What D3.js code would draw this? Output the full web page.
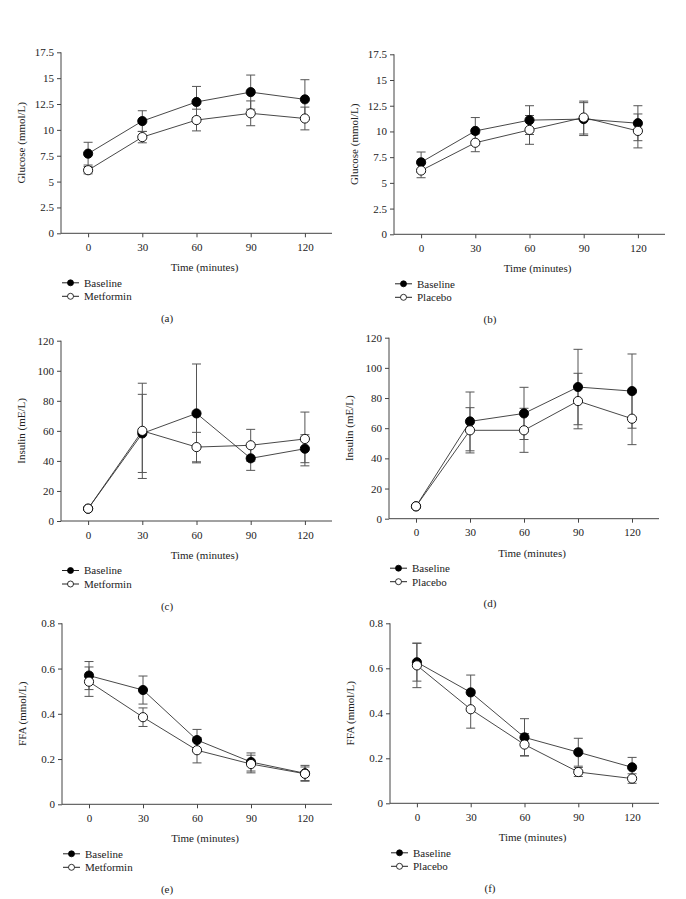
<!DOCTYPE html>
<html>
<head>
<meta charset="utf-8">
<script src="https://cdn.jsdelivr.net/npm/d3@7/dist/d3.min.js"></script>
<style>
html,body{margin:0;padding:0;background:#fff;}
svg{display:block;}
text{font-family:"Liberation Serif","Times New Roman",serif;fill:#222;}
</style>
</head>
<body>
<svg id="chart" width="686" height="899"></svg>
<script>
// ---------- DATA ----------
const times = [0, 30, 60, 90, 120];

const glucoseTicks = ["0", "2.5", "5", "7.5", "10", "12.5", "15", "17.5"];
const insulinTicks = ["0", "20", "40", "60", "80", "100", "120"];
const ffaTicks = ["0", "0.2", "0.4", "0.6", "0.8"];

// (a) Glucose, Baseline vs Metformin
const aBaseline = [7.7, 10.85, 12.7, 13.65, 12.95];
const aBaselineErr = [1.1, 1.0, 1.5, 1.65, 1.9];
const aMetformin = [6.1, 9.3, 10.95, 11.6, 11.1];
const aMetforminErr = [0.35, 0.55, 1.05, 1.2, 1.1];

// (b) Glucose, Baseline vs Placebo
const bBaseline = [7.0, 10.05, 11.1, 11.2, 10.8];
const bBaselineErr = [1.0, 1.3, 1.4, 1.6, 1.7];
const bPlacebo = [6.2, 8.9, 10.15, 11.35, 10.05];
const bPlaceboErr = [0.7, 0.87, 1.4, 1.6, 1.65];

// (c) Insulin, Baseline vs Metformin
const cBaseline = [8.2, 58.3, 71.6, 41.7, 48.1];
const cBaselineErr = [0.5, 26, 32.9, 8, 9.3];
const cMetformin = [8.2, 60, 49.2, 50.4, 54.6];
const cMetforminErr = [0.5, 31.7, 9.8, 10.6, 17.9];

// (d) Insulin, Baseline vs Placebo
const dBaseline = [8.2, 64.5, 69.8, 87.3, 84.6];
const dBaselineErr = [0.5, 19.5, 17.3, 25, 24.6];
const dPlacebo = [8.2, 58.6, 58.6, 78, 66.3];
const dPlaceboErr = [0.5, 15, 14.6, 18.4, 17.2];

// (e) FFA, Baseline vs Metformin
const eBaseline = [0.569, 0.505, 0.284, 0.187, 0.137];
const eBaselineErr = [0.062, 0.062, 0.047, 0.04, 0.035];
const eMetformin = [0.542, 0.385, 0.239, 0.178, 0.135];
const eMetforminErr = [0.065, 0.041, 0.056, 0.039, 0.03];

// (f) FFA, Baseline vs Placebo
const fBaseline = [0.627, 0.493, 0.293, 0.227, 0.16];
const fBaselineErr = [0.084, 0.077, 0.083, 0.062, 0.044];
const fPlacebo = [0.613, 0.418, 0.261, 0.139, 0.11];
const fPlaceboErr = [0.099, 0.084, 0.049, 0.02, 0.021];

const xTitle = "Time (minutes)";

// ---------- PANELS ----------
const panels = [
  {cap:"(a)", ylab:"Glucose (mmol/L)", ticks:glucoseTicks, ymax:17.5, base:aBaseline, baseErr:aBaselineErr, other:aMetformin, otherErr:aMetforminErr, otherName:"Metformin",
   x0:61, x1:332, y0:233.3, y1:52.3, capX:167},
  {cap:"(b)", ylab:"Glucose (mmol/L)", ticks:glucoseTicks, ymax:17.5, base:bBaseline, baseErr:bBaselineErr, other:bPlacebo, otherErr:bPlaceboErr, otherName:"Placebo",
   x0:394, x1:665, y0:234.3, y1:54.3, capX:490},
  {cap:"(c)", ylab:"Insulin (mE/L)", ticks:insulinTicks, ymax:120, base:cBaseline, baseErr:cBaselineErr, other:cMetformin, otherErr:cMetforminErr, otherName:"Metformin",
   x0:61, x1:332, y0:521, y1:340.7, capX:167},
  {cap:"(d)", ylab:"Insulin (mE/L)", ticks:insulinTicks, ymax:120, base:dBaseline, baseErr:dBaselineErr, other:dPlacebo, otherErr:dPlaceboErr, otherName:"Placebo",
   x0:389, x1:659, y0:518.7, y1:337.7, capX:490},
  {cap:"(e)", ylab:"FFA (mmol/L)", ticks:ffaTicks, ymax:0.8, base:eBaseline, baseErr:eBaselineErr, other:eMetformin, otherErr:eMetforminErr, otherName:"Metformin",
   x0:62, x1:332, y0:804.3, y1:623.3, capX:167},
  {cap:"(f)", ylab:"FFA (mmol/L)", ticks:ffaTicks, ymax:0.8, base:fBaseline, baseErr:fBaselineErr, other:fPlacebo, otherErr:fPlaceboErr, otherName:"Placebo",
   x0:390, x1:659, y0:803.3, y1:623.3, capX:490}
];

const svg = d3.select("#chart");
const FS = 11;
const axisColor = "#444";
const errColor = "#555";

panels.forEach(p => {
  const g = svg.append("g");
  const x = d3.scaleLinear().domain([-15, 135]).range([p.x0, p.x1]);
  const y = d3.scaleLinear().domain([0, p.ymax]).range([p.y0, p.y1]);

  // Y axis
  const yAxis = d3.axisLeft(y)
    .tickValues(p.ticks.map(Number))
    .tickFormat((d, i) => p.ticks[i])
    .tickSize(4).tickPadding(3);
  const ya = g.append("g").attr("transform", `translate(${p.x0},0)`).call(yAxis);
  ya.select(".domain").attr("d", `M0,${p.y1}V${p.y0}`);

  // X axis
  const xAxis = d3.axisBottom(x).tickValues(times).tickFormat(d3.format("d")).tickSize(4).tickPadding(6);
  const xa = g.append("g").attr("transform", `translate(0,${p.y0})`).call(xAxis);
  xa.select(".domain").attr("d", `M${p.x0},0H${p.x1}`);

  [ya, xa].forEach(a => {
    a.selectAll(".domain").attr("stroke", axisColor).attr("stroke-width", 1);
    a.selectAll(".tick line").attr("stroke", axisColor).attr("stroke-width", 1);
    a.selectAll(".tick text").attr("font-size", FS).attr("fill", "#222")
      .attr("font-family", '"Liberation Serif","Times New Roman",serif');
  });

  // Y label
  g.append("text")
    .attr("transform", `translate(${p.x0 - 36},${(p.y0 + p.y1) / 2}) rotate(-90)`)
    .attr("text-anchor", "middle")
    .attr("font-size", FS)
    .text(p.ylab);

  // X title
  g.append("text")
    .attr("x", (p.x0 + p.x1) / 2 + 8)
    .attr("y", p.y0 + 38)
    .attr("text-anchor", "middle")
    .attr("font-size", FS)
    .text(xTitle);

  // error bars
  const series = [
    {v: p.base, e: p.baseErr, fill: "#000"},
    {v: p.other, e: p.otherErr, fill: "#fff"}
  ];
  series.forEach(s => {
    const eb = g.append("g");
    times.forEach((t, i) => {
      const cx = x(t), top = y(s.v[i] + s.e[i]), bot = y(s.v[i] - s.e[i]);
      eb.append("line").attr("x1", cx).attr("x2", cx).attr("y1", top).attr("y2", bot)
        .attr("stroke", errColor).attr("stroke-width", 1);
      [top, bot].forEach(yy => eb.append("line").attr("x1", cx - 4.5).attr("x2", cx + 4.5)
        .attr("y1", yy).attr("y2", yy).attr("stroke", errColor).attr("stroke-width", 1));
    });
  });

  // lines
  const line = d3.line().x((d, i) => x(times[i])).y(d => y(d));
  series.forEach(s => {
    g.append("path").datum(s.v).attr("d", line)
      .attr("fill", "none").attr("stroke", "#333").attr("stroke-width", 0.9);
  });

  // markers
  series.forEach(s => {
    g.append("g").selectAll("circle").data(s.v).join("circle")
      .attr("cx", (d, i) => x(times[i])).attr("cy", d => y(d)).attr("r", 4.6)
      .attr("fill", s.fill).attr("stroke", "#000").attr("stroke-width", 0.9);
  });

  // legend
  const legItems = [{name: "Baseline", fill: "#000"}, {name: p.otherName, fill: "#fff"}];
  legItems.forEach((it, k) => {
    const ly = p.y0 + 49.5 + k * 13.5;
    const lx = p.x0 + 1;
    g.append("line").attr("x1", lx).attr("x2", lx + 17).attr("y1", ly).attr("y2", ly)
      .attr("stroke", "#222").attr("stroke-width", 1);
    g.append("circle").attr("cx", lx + 8.5).attr("cy", ly).attr("r", 3)
      .attr("fill", it.fill).attr("stroke", "#000").attr("stroke-width", 0.8);
    g.append("text").attr("x", lx + 22).attr("y", ly + 3.8)
      .attr("font-size", FS).text(it.name);
  });

  // caption
  g.append("text").attr("x", p.capX).attr("y", p.y0 + 88.5)
    .attr("text-anchor", "middle").attr("font-size", FS).text(p.cap);
});
</script>
</body>
</html>
